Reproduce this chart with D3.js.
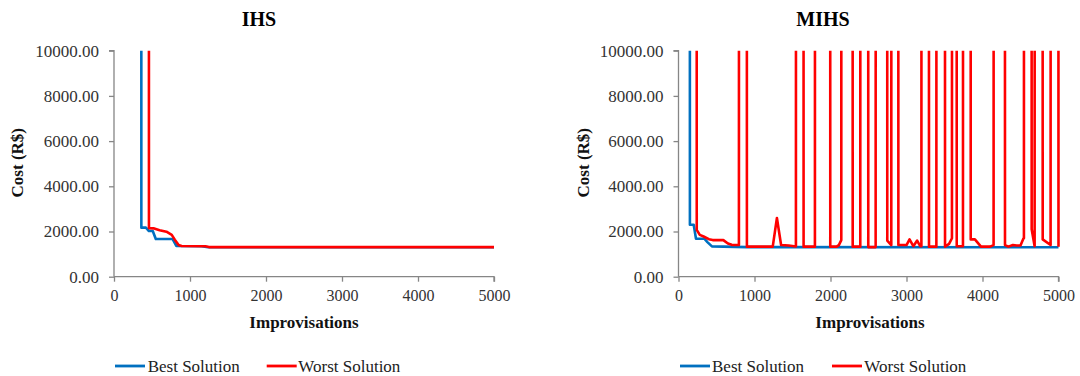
<!DOCTYPE html>
<html>
<head>
<meta charset="utf-8">
<script src="https://cdn.jsdelivr.net/npm/d3@7"></script>
<style>
  html, body { margin: 0; padding: 0; background: #fff; }
  svg { display: block; }
  text { font-family: "Liberation Serif", "Times New Roman", serif; }
</style>
</head>
<body>
<svg id="chart" width="1080" height="376"></svg>
<script>
// ---------- data ----------
const chartTitles = ["IHS", "MIHS"];
const seriesNames = ["Best Solution", "Worst Solution"];
const seriesColors = ["#0070C0", "#FF0000"];
const xTicks = [0, 1000, 2000, 3000, 4000, 5000];
const yTicks = [0, 2000, 4000, 6000, 8000, 10000];
const OFF = 100000; // value above the axis maximum (line leaves the plot)

// IHS
const ihsBestX = [0, 355, 360, 420, 460, 510, 550, 770, 820, 1150, 1240, 5000];
const ihsBestY = [OFF, OFF, 2170, 2170, 2020, 2020, 1670, 1670, 1360, 1350, 1300, 1300];
const ihsWorstX = [0, 455, 460, 520, 600, 690, 760, 800, 850, 890, 1200, 1250, 5000];
const ihsWorstY = [OFF, OFF, 2150, 2140, 2060, 1990, 1850, 1640, 1400, 1360, 1350, 1310, 1310];

// MIHS
const mihsBestX = [0, 145, 150, 200, 230, 340, 380, 440, 900, 5000];
const mihsBestY = [OFF, OFF, 2300, 2300, 1680, 1680, 1530, 1340, 1310, 1300];
const mihsWorstX = [0, 235, 240, 280, 330, 400, 450, 590, 650, 700, 795, 800, 895, 900, 1240, 1295, 1350, 1450, 1545,
  1550, 1641, 1646, 1795, 1800, 1992, 1997, 2080, 2110, 2142, 2147, 2287, 2292, 2392, 2397, 2492, 2497, 2594, 2599,
  2742, 2747, 2800, 2805, 2888, 2893, 3000, 3040, 3090, 3140, 3180, 3196, 3201, 3291, 3296, 3393, 3398, 3502, 3507,
  3560, 3598, 3603, 3656, 3661, 3743, 3748, 3840, 3845, 3900, 3980, 4100, 4146, 4151, 4291, 4296, 4340, 4400, 4450,
  4500, 4540, 4545, 4550, 4642, 4647, 4686, 4691, 4787, 4792, 4896, 4901, 4992, 5000];
const mihsWorstY = [OFF, OFF, 2070, 1850, 1780, 1660, 1620, 1620, 1470, 1410, 1400, OFF, OFF, 1330, 1330, 2600, 1400, 1380, 1340,
  OFF, OFF, 1330, 1330, OFF, OFF, 1330, 1330, 1400, 1620, OFF, OFF, 1330, 1330, OFF, OFF, 1310, 1310, OFF,
  OFF, 1600, 1400, OFF, OFF, 1400, 1400, 1650, 1350, 1600, 1350, 1350, OFF, OFF, 1330, 1330, OFF, OFF, 1330,
  1450, 1700, OFF, OFF, 1350, 1350, OFF, OFF, 1650, 1650, 1330, 1330, 1400, OFF, OFF, 1400, 1330, 1400, 1380,
  1380, 1700, 1700, OFF, OFF, 2100, 1350, OFF, OFF, 1650, 1400, OFF, OFF, 1330];

// ---------- layout ----------
const panels = [
  { title: chartTitles[0], best: [ihsBestX, ihsBestY], worst: [ihsWorstX, ihsWorstY],
    x0: 114, x1: 494, titleX: 259, yTitleX: 17, xTitleX: 304, legend: [115, 147.7, 266.7, 298.3] },
  { title: chartTitles[1], best: [mihsBestX, mihsBestY], worst: [mihsWorstX, mihsWorstY],
    x0: 678.5, x1: 1058.5, titleX: 823, yTitleX: 583, xTitleX: 870, legend: [680, 712, 832, 864.3] }
];
const yTop = 50.7, yBot = 276.7;
const axisColor = "#868686";
const svg = d3.select("#chart");

panels.forEach((p, i) => {
  const x = d3.scaleLinear().domain([0, 5000]).range([p.x0, p.x1]);
  const y = d3.scaleLinear().domain([0, 10000]).range([yBot, yTop]);
  const g = svg.append("g");

  // clip
  const clipId = "clip" + i;
  svg.append("clipPath").attr("id", clipId).append("rect")
    .attr("x", p.x0 - 2).attr("y", yTop).attr("width", p.x1 - p.x0 + 4).attr("height", yBot - yTop + 2);

  // title
  g.append("text").attr("x", p.titleX).attr("y", 26).attr("text-anchor", "middle")
    .attr("font-size", 20).attr("font-weight", "bold").attr("fill", "#000").text(p.title);

  // y axis
  const yAxis = d3.axisLeft(y).tickValues(yTicks).tickSize(5).tickPadding(10)
    .tickFormat(d => d3.format(".2f")(d));
  const ya = g.append("g").attr("transform", `translate(${p.x0},0)`).call(yAxis);
  ya.select(".domain").attr("stroke", axisColor).attr("stroke-width", 1.3).attr("d", `M-5,${yTop}H0V${yBot}`);
  ya.selectAll(".tick line").attr("stroke", axisColor).attr("stroke-width", 1.3);
  ya.selectAll(".tick text").attr("font-size", 17).attr("fill", "#333")
    .attr("font-family", "Liberation Serif, serif");

  // x axis
  const xAxis = d3.axisBottom(x).tickValues(xTicks).tickSize(5).tickPadding(8).tickFormat(d3.format("d"));
  const xa = g.append("g").attr("transform", `translate(0,${yBot})`).call(xAxis);
  xa.select(".domain").attr("stroke", axisColor).attr("stroke-width", 1.3).attr("d", `M${p.x0},0H${p.x1}V5`);
  xa.selectAll(".tick line").attr("stroke", axisColor).attr("stroke-width", 1.3);
  xa.selectAll(".tick text").attr("font-size", 16).attr("fill", "#333")
    .attr("font-family", "Liberation Serif, serif");

  // axis titles
  g.append("text").attr("transform", `translate(${p.yTitleX + 6},${(yTop + yBot) / 2 - 1}) rotate(-90)`)
    .attr("text-anchor", "middle").attr("font-size", 17).attr("font-weight", "bold").attr("fill", "#111")
    .text("Cost (R$)");
  g.append("text").attr("x", p.xTitleX).attr("y", 328).attr("text-anchor", "middle")
    .attr("font-size", 17).attr("font-weight", "bold").attr("fill", "#111").text("Improvisations");

  // lines
  const line = d3.line().x(d => x(d[0])).y(d => y(d[1]));
  const lg = g.append("g").attr("clip-path", `url(#${clipId})`);
  [p.best, p.worst].forEach((s, k) => {
    const pts = s[0].map((xv, j) => [xv, s[1][j]]);
    lg.append("path").datum(pts).attr("d", line).attr("fill", "none")
      .attr("stroke", seriesColors[k]).attr("stroke-width", 2.6).attr("stroke-linejoin", "round");
  });
  // draw worst over best (order already)

  // legend
  const ly = 366;
  const L = p.legend;
  [[L[0], L[1]], [L[2], L[3]]].forEach((pos, k) => {
    g.append("line").attr("x1", pos[0]).attr("x2", pos[0] + 30).attr("y1", ly).attr("y2", ly)
      .attr("stroke", seriesColors[k]).attr("stroke-width", 2.8);
    g.append("text").attr("x", pos[1]).attr("y", ly + 5.5).attr("font-size", 17).attr("fill", "#222")
      .text(seriesNames[k]);
  });
});
</script>
</body>
</html>
